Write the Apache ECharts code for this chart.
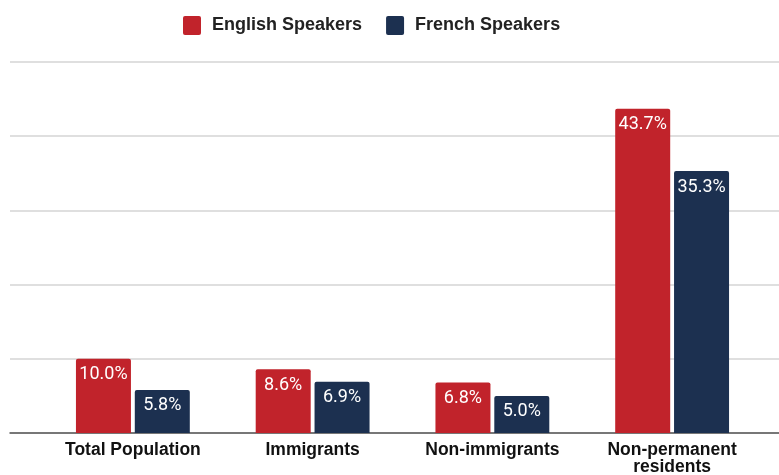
<!DOCTYPE html>
<html><head><meta charset="utf-8">
<script src="https://cdn.jsdelivr.net/npm/echarts@6/dist/echarts.min.js"></script>
<style>html,body{margin:0;padding:0;background:#fff}#c{width:779px;height:475px}</style>
</head><body><div id="c"></div>
<script>
var categories = ['Total Population', 'Immigrants', 'Non-immigrants', 'Non-permanent\nresidents'];
var englishSpeakers = [10.0, 8.6, 6.8, 43.7];
var frenchSpeakers = [5.8, 6.9, 5.0, 35.3];
var seriesNames = ['English Speakers', 'French Speakers'];

var chart = echarts.init(document.getElementById('c'));
var labelCfg = {
  show: true, position: 'insideTop', distance: 7, color: '#fff',
  fontFamily: 'Roboto', fontSize: 18,
  formatter: function (p) { return p.value.toFixed(1) + '%'; }
};
chart.setOption({
  animation: false,
  legend: {
    data: seriesNames, top: 11, left: 178, itemWidth: 18, itemHeight: 19, itemGap: 24,
    textStyle: { fontFamily: 'Liberation Sans', fontWeight: 'bold', fontSize: 18, color: '#222', padding: [0, 0, 0, 6] },
    icon: 'path://M2,0 H16 A2,2 0 0 1 18,2 V17 A2,2 0 0 1 16,19 H2 A2,2 0 0 1 0,17 V2 A2,2 0 0 1 2,0 Z'
  },
  grid: [
    { left: 43, right: 17, top: 62, bottom: 42, outerBoundsMode: 'none', containLabel: false },
    { left: 10, right: 0, top: 62, bottom: 42, outerBoundsMode: 'none', containLabel: false }
  ],
  xAxis: [
    { type: 'category', data: categories, gridIndex: 0,
      axisLine: { show: false }, axisTick: { show: false },
      axisLabel: { margin: 9, fontFamily: 'Liberation Sans', fontWeight: 'bold', fontSize: 17.5, color: '#111', lineHeight: 17, interval: 0 } },
    { type: 'category', data: ['a'], gridIndex: 1, axisLine: { show: true, lineStyle: { color: '#555', width: 1.5 } },
      axisTick: { show: false }, axisLabel: { show: false } }
  ],
  yAxis: [
    { type: 'value', min: 0, max: 50, interval: 10, gridIndex: 0, show: false, splitLine: { show: false } },
    { type: 'value', min: 0, max: 50, interval: 10, gridIndex: 1, axisLine: { show: false }, axisTick: { show: false },
      axisLabel: { show: false }, splitLine: { lineStyle: { color: '#d4d4d4', width: 1.5 } } }
  ],
  series: [
    { name: seriesNames[0], type: 'bar', data: englishSpeakers, barWidth: 55, barGap: '7%',
      itemStyle: { color: '#c1232b', borderRadius: [2, 2, 0, 0] }, label: labelCfg, z: 3 },
    { name: seriesNames[1], type: 'bar', data: frenchSpeakers, barWidth: 55, barGap: '7%',
      itemStyle: { color: '#1c3050', borderRadius: [2, 2, 0, 0] }, label: labelCfg, z: 3 }
  ]
});
</script></body></html>
